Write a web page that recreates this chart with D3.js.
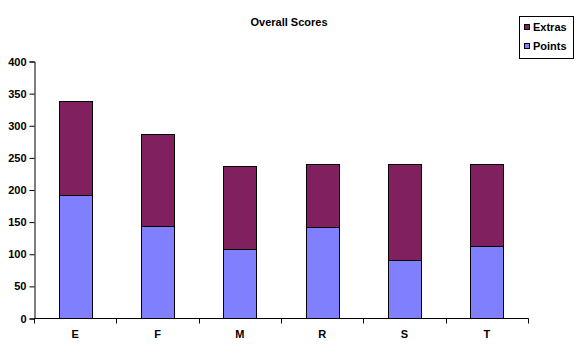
<!DOCTYPE html>
<html><head><meta charset="utf-8">
<script src="https://cdn.jsdelivr.net/npm/d3@7"></script>
<style>
body{margin:0;background:#fff;}
svg{display:block;}
text{font-family:"Liberation Sans",Arial,sans-serif;}
</style></head>
<body>
<svg id="c" width="578" height="360"></svg>
<script>
const categories = ["E","F","M","R","S","T"];
const points = [191,143,108,141,90,112];
const extras = [147,143,128,99,149,128];
const yTicks = [0,50,100,150,200,250,300,350,400];
const seriesNames = ["Points","Extras"];
const colors = {Points:"#8080ff", Extras:"#80205f"};

const svg = d3.select("#c");
const x = d3.scaleBand().domain(categories).range([34,528]).paddingInner(0.6).paddingOuter(0.3);
const y = d3.scaleLinear().domain([0,400]).range([318,61]);

const data = categories.map((c,i)=>({cat:c, Points:points[i], Extras:extras[i]}));
const stack = d3.stack().keys(seriesNames)(data);

svg.append("text").attr("x",289).attr("y",26).attr("text-anchor","middle")
  .attr("font-size",11).attr("font-weight","bold").text("Overall Scores");

const g = svg.append("g");
stack.forEach(s=>{
  g.selectAll(null).data(s).enter().append("rect")
    .attr("x",d=>Math.round(x(d.data.cat))+0.5)
    .attr("width",Math.round(x.bandwidth()))
    .attr("y",d=>Math.round(y(d[1]))+0.5)
    .attr("height",d=>Math.round(y(d[0]))-Math.round(y(d[1])))
    .attr("fill",colors[s.key]).attr("stroke","#000").attr("stroke-width",1);
});

// y axis
const ya = svg.append("g").attr("transform","translate(34.5,0.5)")
  .call(d3.axisLeft(y).tickValues(yTicks).tickSize(5).tickPadding(3));
ya.selectAll("path,line").attr("stroke","#000");
ya.selectAll("text").attr("font-size",11).attr("font-weight","bold")
  .attr("font-family","Liberation Sans,Arial,sans-serif").attr("fill","#000");

// x axis
const xa = svg.append("g").attr("transform","translate(0,318.5)");
xa.append("line").attr("x1",34).attr("x2",528.5).attr("stroke","#000");
const bounds = d3.range(categories.length+1).map(i=> i===categories.length ? 528 : x(categories[i]) - x.step()*x.paddingInner()/2 );
xa.selectAll(null).data(d3.range(categories.length+1)).enter().append("line")
  .attr("x1",i=>Math.round(34 + i*(528-34)/categories.length)+0.5)
  .attr("x2",i=>Math.round(34 + i*(528-34)/categories.length)+0.5)
  .attr("y1",0).attr("y2",5).attr("stroke","#000");
xa.selectAll(null).data(categories).enter().append("text")
  .attr("x",d=>x(d)+x.bandwidth()/2).attr("y",19.5).attr("text-anchor","middle")
  .attr("font-size",11).attr("font-weight","bold").text(d=>d);

// legend
const lg = svg.append("g");
lg.append("rect").attr("x",519.5).attr("y",16.5).attr("width",54).attr("height",42)
  .attr("fill","#fff").attr("stroke","#000");
const legendItems = ["Extras","Points"];
legendItems.forEach((k,i)=>{
  lg.append("rect").attr("x",524.5).attr("y",24.5+i*19).attr("width",5).attr("height",5)
    .attr("fill",colors[k]).attr("stroke","#000");
  lg.append("text").attr("x",533).attr("y",31+i*19).attr("font-size",11).attr("font-weight","bold").text(k);
});
</script>
</body></html>
